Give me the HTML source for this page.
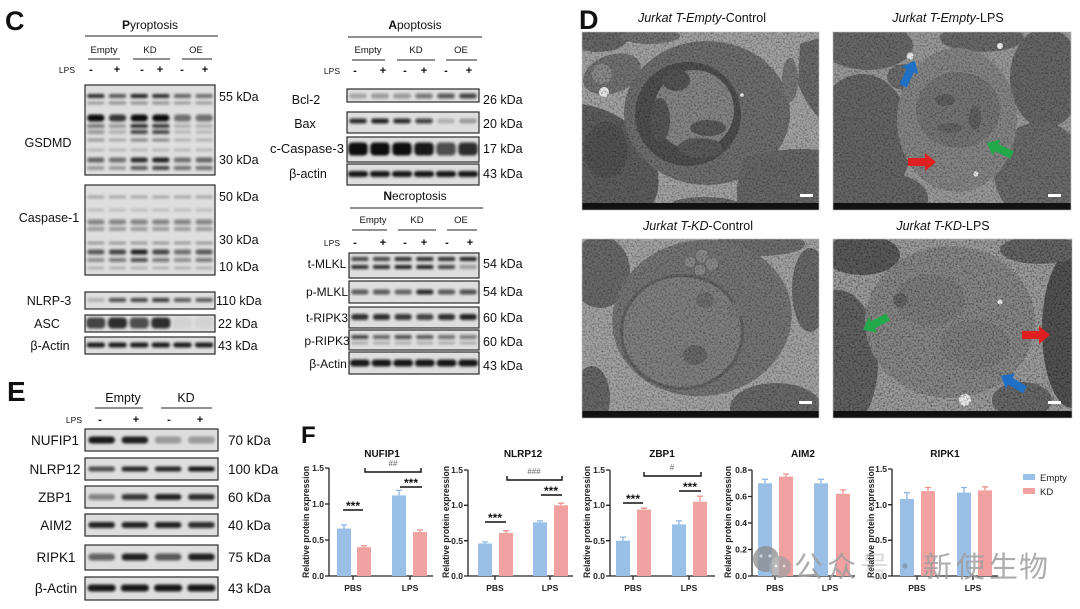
<!DOCTYPE html>
<html><head><meta charset="utf-8"><style>
html,body{margin:0;padding:0;background:#fff;}
svg{display:block;font-family:"Liberation Sans",Arial,"Noto Sans CJK SC",sans-serif;}
</style></head><body>
<svg id="s" width="1080" height="609" viewBox="0 0 1080 609" xmlns="http://www.w3.org/2000/svg">
<defs>
<filter id="blur" x="-10%" y="-50%" width="120%" height="200%"><feGaussianBlur stdDeviation="1.3"/></filter>
<filter id="grain" x="0" y="0" width="100%" height="100%"><feTurbulence type="fractalNoise" baseFrequency="0.55" numOctaves="2" seed="7"/><feColorMatrix type="matrix" values="0 0 0 0 0  0 0 0 0 0  0 0 0 0 0  2.2 0 0 0 -0.95"/></filter>
<clipPath id="c1"><rect x="582" y="32" width="237" height="178"/></clipPath>
<clipPath id="c2"><rect x="833" y="32" width="238" height="178"/></clipPath>
<clipPath id="c3"><rect x="582" y="239" width="237" height="179"/></clipPath>
<clipPath id="c4"><rect x="833" y="239" width="239" height="179"/></clipPath>
</defs>
<rect width="1080" height="609" fill="#fff"/>

<!-- ===== Panel C ===== -->
<text x="5" y="30" font-size="27" font-weight="bold" fill="#111">C</text>
<g fill="#111">
<text x="150" y="29" font-size="12" text-anchor="middle"><tspan font-weight="bold">P</tspan>yroptosis</text>
<line x1="85" y1="36" x2="218" y2="36" stroke="#222" stroke-width="1"/>
<g font-size="9.5" text-anchor="middle">
<text x="104" y="53">Empty</text><text x="150" y="53">KD</text><text x="196" y="53">OE</text>
</g>
<g stroke="#222" stroke-width="1">
<line x1="88" y1="59" x2="120" y2="59"/><line x1="133" y1="59" x2="170" y2="59"/><line x1="182" y1="59" x2="212" y2="59"/>
</g>
<text x="75" y="73" font-size="8.5" text-anchor="end">LPS</text>
<g font-size="11" font-weight="bold" text-anchor="middle">
<text x="91" y="73">-</text><text x="117" y="73">+</text><text x="142" y="73">-</text><text x="160" y="73">+</text><text x="182" y="73">-</text><text x="205" y="73">+</text>
</g>
<g font-size="12.5" text-anchor="middle">
<text x="48" y="147" textLength="47" lengthAdjust="spacingAndGlyphs">GSDMD</text>
<text x="49" y="222">Caspase-1</text>
<text x="49" y="305">NLRP-3</text>
<text x="47" y="328">ASC</text>
<text x="50" y="350">β-Actin</text>
</g>
<g font-size="12.5">
<text x="219" y="101">55 kDa</text>
<text x="219" y="164">30 kDa</text>
<text x="219" y="201">50 kDa</text>
<text x="219" y="244">30 kDa</text>
<text x="219" y="271">10 kDa</text>
<text x="216" y="305">110 kDa</text>
<text x="218" y="328">22 kDa</text>
<text x="218" y="350">43 kDa</text>
</g>

<!-- apoptosis -->
<text x="415" y="29" font-size="12" text-anchor="middle"><tspan font-weight="bold">A</tspan>poptosis</text>
<line x1="348" y1="37" x2="482" y2="37" stroke="#222" stroke-width="1"/>
<g font-size="9.5" text-anchor="middle">
<text x="368" y="53">Empty</text><text x="416" y="53">KD</text><text x="461" y="53">OE</text>
</g>
<g stroke="#222" stroke-width="1">
<line x1="352" y1="60" x2="385" y2="60"/><line x1="397" y1="60" x2="435" y2="60"/><line x1="446" y1="60" x2="477" y2="60"/>
</g>
<text x="340" y="74" font-size="8.5" text-anchor="end">LPS</text>
<g font-size="11" font-weight="bold" text-anchor="middle">
<text x="355" y="74">-</text><text x="383" y="74">+</text><text x="405" y="74">-</text><text x="424" y="74">+</text><text x="446" y="74">-</text><text x="469" y="74">+</text>
</g>
<g font-size="12.5" text-anchor="middle">
<text x="306" y="104">Bcl-2</text>
<text x="305" y="128">Bax</text>
<text x="307" y="153" textLength="74" lengthAdjust="spacingAndGlyphs">c-Caspase-3</text>
<text x="308" y="178">β-actin</text>
</g>
<g font-size="12.5">
<text x="483" y="104">26 kDa</text>
<text x="483" y="128">20 kDa</text>
<text x="483" y="153">17 kDa</text>
<text x="483" y="178">43 kDa</text>
</g>

<!-- necroptosis -->
<text x="415" y="200" font-size="12" text-anchor="middle"><tspan font-weight="bold">N</tspan>ecroptosis</text>
<line x1="350" y1="208" x2="483" y2="208" stroke="#222" stroke-width="1"/>
<g font-size="9.5" text-anchor="middle">
<text x="373" y="223">Empty</text><text x="417" y="223">KD</text><text x="461" y="223">OE</text>
</g>
<g stroke="#222" stroke-width="1">
<line x1="352" y1="230" x2="387" y2="230"/><line x1="398" y1="230" x2="436" y2="230"/><line x1="447" y1="230" x2="477" y2="230"/>
</g>
<text x="340" y="246" font-size="8.5" text-anchor="end">LPS</text>
<g font-size="11" font-weight="bold" text-anchor="middle">
<text x="355" y="246">-</text><text x="383" y="246">+</text><text x="405" y="246">-</text><text x="424" y="246">+</text><text x="447" y="246">-</text><text x="470" y="246">+</text>
</g>
<g font-size="12" text-anchor="middle">
<text x="327" y="268">t-MLKL</text>
<text x="327" y="296">p-MLKL</text>
<text x="327" y="322">t-RIPK3</text>
<text x="327" y="345">p-RIPK3</text>
<text x="328" y="368">β-Actin</text>
</g>
<g font-size="12.5">
<text x="483" y="268">54 kDa</text>
<text x="483" y="296">54 kDa</text>
<text x="483" y="322">60 kDa</text>
<text x="483" y="346">60 kDa</text>
<text x="483" y="370">43 kDa</text>
</g>
</g>

<!-- blot boxes backgrounds -->
<g fill="#dedede">
<rect x="85" y="85" width="130" height="90"/>
<rect x="85" y="185" width="130" height="90"/>
<rect x="85" y="292" width="130" height="17"/>
<rect x="85" y="315" width="130" height="17"/>
<rect x="85" y="337" width="130" height="17"/>
<rect x="347" y="89" width="132" height="13"/>
<rect x="347" y="112" width="132" height="21"/>
<rect x="347" y="137" width="132" height="25"/>
<rect x="347" y="164" width="132" height="21"/>
<rect x="349" y="253" width="130" height="25"/>
<rect x="349" y="281" width="130" height="22"/>
<rect x="349" y="307" width="130" height="21"/>
<rect x="349" y="330" width="130" height="20"/>
<rect x="349" y="352" width="130" height="22"/>
<rect x="85" y="429" width="133" height="22"/>
<rect x="85" y="458" width="133" height="22"/>
<rect x="85" y="486" width="133" height="22"/>
<rect x="85" y="514" width="133" height="22"/>
<rect x="85" y="545" width="133" height="25"/>
<rect x="85" y="577" width="133" height="23"/>
</g>
<g id="bands" filter="url(#blur)"></g>
<g fill="none" stroke="#2a2a2a" stroke-width="1.2">
<rect x="85" y="85" width="130" height="90"/>
<rect x="85" y="185" width="130" height="90"/>
<rect x="85" y="292" width="130" height="17"/>
<rect x="85" y="315" width="130" height="17"/>
<rect x="85" y="337" width="130" height="17"/>
<rect x="347" y="89" width="132" height="13"/>
<rect x="347" y="112" width="132" height="21"/>
<rect x="347" y="137" width="132" height="25"/>
<rect x="347" y="164" width="132" height="21"/>
<rect x="349" y="253" width="130" height="25"/>
<rect x="349" y="281" width="130" height="22"/>
<rect x="349" y="307" width="130" height="21"/>
<rect x="349" y="330" width="130" height="20"/>
<rect x="349" y="352" width="130" height="22"/>
<rect x="85" y="429" width="133" height="22"/>
<rect x="85" y="458" width="133" height="22"/>
<rect x="85" y="486" width="133" height="22"/>
<rect x="85" y="514" width="133" height="22"/>
<rect x="85" y="545" width="133" height="25"/>
<rect x="85" y="577" width="133" height="23"/>
</g>

<!-- ===== Panel E ===== -->
<g fill="#111">
<text x="7" y="401" font-size="28" font-weight="bold">E</text>
<g font-size="12.5" text-anchor="middle"><text x="123" y="402">Empty</text><text x="186" y="402">KD</text></g>
<g stroke="#222" stroke-width="1"><line x1="95" y1="408" x2="143" y2="408"/><line x1="161" y1="408" x2="212" y2="408"/></g>
<text x="82" y="423" font-size="8.5" text-anchor="end">LPS</text>
<g font-size="11" font-weight="bold" text-anchor="middle">
<text x="100" y="423">-</text><text x="136" y="423">+</text><text x="169" y="423">-</text><text x="200" y="423">+</text>
</g>
<g font-size="13.5" text-anchor="middle">
<text x="55" y="445">NUFIP1</text>
<text x="55" y="474">NLRP12</text>
<text x="55" y="502">ZBP1</text>
<text x="56" y="530">AIM2</text>
<text x="56" y="562">RIPK1</text>
<text x="56" y="593">β-Actin</text>
</g>
<g font-size="13.5">
<text x="228" y="445">70 kDa</text>
<text x="228" y="474">100 kDa</text>
<text x="228" y="502">60 kDa</text>
<text x="228" y="530">40 kDa</text>
<text x="228" y="562">75 kDa</text>
<text x="228" y="593">43 kDa</text>
</g>
</g>

<!-- ===== Panel D ===== -->
<text x="579" y="29" font-size="27" font-weight="bold" fill="#111">D</text>
<g font-size="12.5" text-anchor="middle" fill="#111">
<text x="702" y="22"><tspan font-style="italic">Jurkat T-Empty</tspan>-Control</text>
<text x="948" y="22"><tspan font-style="italic">Jurkat T-Empty</tspan>-LPS</text>
<text x="698" y="230"><tspan font-style="italic">Jurkat T-KD</tspan>-Control</text>
<text x="943" y="230"><tspan font-style="italic">Jurkat T-KD</tspan>-LPS</text>
</g>

<!-- EM 1 -->
<g clip-path="url(#c1)">
<rect x="582" y="32" width="237" height="178" fill="#a2a2a2"/>
<ellipse cx="598" cy="38" rx="30" ry="14" fill="#676767"/>
<ellipse cx="650" cy="36" rx="30" ry="8" fill="#727272"/>
<ellipse cx="612" cy="74" rx="30" ry="19" transform="rotate(-20 612 74)" fill="#727272"/>
<circle cx="602" cy="74" r="10" fill="#8a8a8a"/>
<path d="M582,104 Q628,112 650,148 Q668,188 648,210 L582,210 Z" fill="#5d5d5d"/>
<ellipse cx="606" cy="150" rx="22" ry="28" fill="#525252"/>
<ellipse cx="707" cy="113" rx="83" ry="72" fill="#6e6e6e"/>
<ellipse cx="688" cy="114" rx="53" ry="52" fill="#4f4f4f"/>
<ellipse cx="694" cy="110" rx="40" ry="40" fill="#858585"/>
<ellipse cx="676" cy="80" rx="14" ry="11" fill="#555"/>
<ellipse cx="660" cy="120" rx="10" ry="22" fill="#575757"/>
<ellipse cx="708" cy="128" rx="18" ry="8" fill="#5a5a5a"/>
<ellipse cx="700" cy="148" rx="22" ry="10" fill="#5b5b5b"/>
<path d="M800,44 L819,38 L819,118 Q806,104 798,84 Z" fill="#696969"/>
<path d="M745,158 Q782,146 819,150 L819,210 L738,210 Q734,180 745,158 Z" fill="#676767"/>
<ellipse cx="790" cy="80" rx="8" ry="22" fill="#777"/>
<ellipse cx="705" cy="205" rx="35" ry="8" fill="#686868"/>
<circle cx="604" cy="92" r="5" fill="#ececec"/>
<circle cx="742" cy="95" r="1.8" fill="#fff"/>
<rect x="582" y="32" width="237" height="178" filter="url(#grain)" opacity="0.45"/>
<rect x="582" y="203" width="237" height="7" fill="#111"/>
<rect x="800" y="194" width="13" height="3" fill="#fff"/>
</g>
<rect x="582" y="32" width="237" height="178" fill="none" stroke="#bbb" stroke-width="0.6"/>

<!-- EM 2 -->
<g clip-path="url(#c2)">
<rect x="833" y="32" width="238" height="178" fill="#999"/>
<ellipse cx="868" cy="46" rx="45" ry="24" fill="#686868"/>
<ellipse cx="862" cy="140" rx="50" ry="66" fill="#656565"/>
<ellipse cx="905" cy="77" rx="18" ry="13" fill="#6c6c6c"/>
<ellipse cx="982" cy="38" rx="42" ry="14" fill="#696969"/>
<ellipse cx="1046" cy="78" rx="36" ry="50" fill="#666"/>
<ellipse cx="1040" cy="172" rx="46" ry="50" fill="#6b6b6b"/>
<ellipse cx="880" cy="198" rx="48" ry="26" fill="#656565"/>
<ellipse cx="957" cy="120" rx="60" ry="72" fill="#858585"/>
<ellipse cx="958" cy="110" rx="42" ry="38" fill="#757575"/>
<ellipse cx="945" cy="100" rx="10" ry="6" fill="#606060"/>
<ellipse cx="975" cy="118" rx="6" ry="12" fill="#606060"/>
<ellipse cx="950" cy="128" rx="12" ry="5" fill="#636363"/>
<circle cx="910" cy="56" r="3.5" fill="#f0f0f0"/>
<circle cx="1000" cy="46" r="3" fill="#f0f0f0"/>
<circle cx="976" cy="174" r="2.5" fill="#f0f0f0"/>
<rect x="833" y="32" width="238" height="178" filter="url(#grain)" opacity="0.45"/>
<polygon points="0,-4 17,-4 17,-9 28,0 17,9 17,4 0,4" fill="#1f6fc4" transform="translate(903,86) rotate(-65)"/>
<polygon points="0,-4 17,-4 17,-9 28,0 17,9 17,4 0,4" fill="#e02020" transform="translate(908,162)"/>
<polygon points="0,-4 17,-4 17,-9 28,0 17,9 17,4 0,4" fill="#22a94a" transform="translate(1012,155) rotate(205.6)"/>
<rect x="833" y="203" width="238" height="7" fill="#111"/>
<rect x="1048" y="194" width="13" height="3" fill="#fff"/>
</g>
<rect x="833" y="32" width="238" height="178" fill="none" stroke="#bbb" stroke-width="0.6"/>

<!-- EM 3 -->
<g clip-path="url(#c3)">
<rect x="582" y="239" width="237" height="179" fill="#a2a2a2"/>
<ellipse cx="600" cy="272" rx="30" ry="36" fill="#696969"/>
<ellipse cx="592" cy="398" rx="18" ry="32" fill="#676767"/>
<ellipse cx="760" cy="244" rx="45" ry="12" fill="#6e6e6e"/>
<ellipse cx="810" cy="290" rx="18" ry="42" fill="#696969"/>
<ellipse cx="776" cy="408" rx="46" ry="25" fill="#696969"/>
<ellipse cx="702" cy="318" rx="90" ry="78" transform="rotate(-8 702 318)" fill="#757575"/>
<ellipse cx="682" cy="332" rx="62" ry="58" fill="#626262"/>
<ellipse cx="682" cy="332" rx="59" ry="55" fill="#808080"/>
<ellipse cx="695" cy="355" rx="12" ry="10" fill="#696969"/>
<ellipse cx="705" cy="300" rx="9" ry="8" fill="#6f6f6f"/>
<circle cx="690" cy="262" r="6" fill="#8a8a8a" stroke="#626262" stroke-width="0.8"/>
<circle cx="702" cy="256" r="7" fill="#8a8a8a" stroke="#626262" stroke-width="0.8"/>
<circle cx="712" cy="264" r="7" fill="#8a8a8a" stroke="#626262" stroke-width="0.8"/>
<circle cx="700" cy="270" r="6" fill="#8a8a8a" stroke="#626262" stroke-width="0.8"/>
<circle cx="735" cy="310" r="8" fill="#797979"/>
<rect x="582" y="239" width="237" height="179" filter="url(#grain)" opacity="0.45"/>
<rect x="582" y="411" width="237" height="7" fill="#111"/>
<rect x="799" y="401" width="13" height="3" fill="#fff"/>
</g>
<rect x="582" y="239" width="237" height="179" fill="none" stroke="#bbb" stroke-width="0.6"/>

<!-- EM 4 -->
<g clip-path="url(#c4)">
<rect x="833" y="239" width="239" height="179" fill="#9c9c9c"/>
<ellipse cx="862" cy="255" rx="38" ry="20" fill="#5a5a5a"/>
<ellipse cx="838" cy="362" rx="40" ry="72" fill="#626262"/>
<ellipse cx="1072" cy="330" rx="30" ry="78" fill="#535353"/>
<ellipse cx="1040" cy="250" rx="40" ry="14" fill="#656565"/>
<ellipse cx="1022" cy="400" rx="30" ry="18" fill="#696969"/>
<ellipse cx="950" cy="322" rx="85" ry="76" fill="#878787"/>
<ellipse cx="930" cy="300" rx="35" ry="25" fill="#7d7d7d"/>
<ellipse cx="975" cy="345" rx="35" ry="25" fill="#7f7f7f"/>
<circle cx="900" cy="300" r="7" fill="#656565"/>
<circle cx="965" cy="400" r="6" fill="#eee"/>
<circle cx="1000" cy="302" r="2.5" fill="#f0f0f0"/>
<rect x="833" y="239" width="239" height="179" filter="url(#grain)" opacity="0.55"/>
<polygon points="0,-4 17,-4 17,-9 28,0 17,9 17,4 0,4" fill="#e02020" transform="translate(1022,335)"/>
<polygon points="0,-4 17,-4 17,-9 28,0 17,9 17,4 0,4" fill="#22a94a" transform="translate(888,317) rotate(152.5)"/>
<polygon points="0,-4 17,-4 17,-9 28,0 17,9 17,4 0,4" fill="#1f6fc4" transform="translate(1025,390) rotate(211)"/>
<rect x="833" y="411" width="239" height="7" fill="#111"/>
<rect x="1048" y="401" width="13" height="3" fill="#fff"/>
</g>
<rect x="833" y="239" width="239" height="179" fill="none" stroke="#bbb" stroke-width="0.6"/>

<!-- ===== Panel F ===== -->
<text x="301" y="443" font-size="24" font-weight="bold" fill="#111">F</text>
<g font-size="10" font-weight="bold" fill="#111" text-anchor="middle">
<text x="382" y="457">NUFIP1</text>
<text x="523" y="457">NLRP12</text>
<text x="662" y="457">ZBP1</text>
<text x="803" y="457">AIM2</text>
<text x="945" y="457">RIPK1</text>
</g>
<g font-size="9" font-weight="bold" fill="#222" text-anchor="middle">
<text transform="translate(309,522) rotate(-90)" textLength="112" lengthAdjust="spacingAndGlyphs">Relative protein expression</text>
<text transform="translate(449,522) rotate(-90)" textLength="112" lengthAdjust="spacingAndGlyphs">Relative protein expression</text>
<text transform="translate(590,522) rotate(-90)" textLength="112" lengthAdjust="spacingAndGlyphs">Relative protein expression</text>
<text transform="translate(731,522) rotate(-90)" textLength="112" lengthAdjust="spacingAndGlyphs">Relative protein expression</text>
<text transform="translate(874,522) rotate(-90)" textLength="112" lengthAdjust="spacingAndGlyphs">Relative protein expression</text>
</g>

<!-- axes -->
<g stroke="#222" stroke-width="1.3" fill="none">
<path d="M329,468 V576 H433 M325,468 H329 M325,504 H329 M325,540 H329 M325,576 H329 M353,576 V580 M410,576 V580"/>
<path d="M468,470 V576 H573 M464,470 H468 M464,505.3 H468 M464,540.7 H468 M464,576 H468 M495,576 V580 M550,576 V580"/>
<path d="M610,470 V576 H715 M606,470 H610 M606,505.3 H610 M606,540.7 H610 M606,576 H610 M633,576 V580 M689,576 V580"/>
<path d="M752,470 V576 H855 M748,470 H752 M748,496.5 H752 M748,523 H752 M748,549.5 H752 M748,576 H752 M775,576 V580 M830,576 V580"/>
<path d="M892,469 V576 H998 M888,469 H892 M888,504.7 H892 M888,540.3 H892 M888,576 H892 M917,576 V580 M973,576 V580"/>
</g>
<g font-size="8.5" font-weight="bold" fill="#222" text-anchor="end">
<text x="324" y="471">1.5</text><text x="324" y="507">1.0</text><text x="324" y="543">0.5</text><text x="324" y="579">0.0</text>
<text x="463" y="473">1.5</text><text x="463" y="508">1.0</text><text x="463" y="544">0.5</text><text x="463" y="579">0.0</text>
<text x="605" y="473">1.5</text><text x="605" y="508">1.0</text><text x="605" y="544">0.5</text><text x="605" y="579">0.0</text>
<text x="747" y="473">0.8</text><text x="747" y="499.5">0.6</text><text x="747" y="526">0.4</text><text x="747" y="552.5">0.2</text><text x="747" y="579">0.0</text>
<text x="887" y="472">1.5</text><text x="887" y="508">1.0</text><text x="887" y="543">0.5</text><text x="887" y="579">0.0</text>
</g>
<g font-size="8.5" font-weight="bold" fill="#222" text-anchor="middle">
<text x="353" y="591">PBS</text><text x="410" y="591">LPS</text>
<text x="495" y="591">PBS</text><text x="550" y="591">LPS</text>
<text x="633" y="591">PBS</text><text x="689" y="591">LPS</text>
<text x="775" y="591">PBS</text><text x="830" y="591">LPS</text>
<text x="917" y="591">PBS</text><text x="973" y="591">LPS</text>
</g>

<!-- bars -->
<g>
<g fill="#9bc0e8">
<rect x="337" y="528.5" width="14" height="47.5"/><rect x="392" y="495.4" width="14" height="80.6"/>
<rect x="478" y="543.5" width="14" height="32.5"/><rect x="533" y="522.3" width="14" height="53.7"/>
<rect x="616" y="540.7" width="14" height="35.3"/><rect x="672" y="524.4" width="14" height="51.6"/>
<rect x="758" y="483.3" width="14" height="92.7"/><rect x="814" y="483.3" width="14" height="92.7"/>
<rect x="900" y="499" width="14" height="77"/><rect x="957" y="492.5" width="14" height="83.5"/>
</g>
<g fill="#f2a1a1">
<rect x="357" y="547.2" width="14" height="28.8"/><rect x="413" y="532.1" width="14" height="43.9"/>
<rect x="499" y="532.9" width="14" height="43.1"/><rect x="554" y="505.3" width="14" height="70.7"/>
<rect x="637" y="509.6" width="14" height="66.4"/><rect x="693" y="501.8" width="14" height="74.2"/>
<rect x="779" y="476.6" width="14" height="99.4"/><rect x="836" y="493.8" width="14" height="82.2"/>
<rect x="921" y="491.1" width="14" height="84.9"/><rect x="978" y="490.4" width="14" height="85.6"/>
</g>
<g stroke="#8fb6e2" stroke-width="1.3" fill="none">
<path d="M344,528.5 V524.9 M341,524.9 H347"/><path d="M399,495.4 V490.4 M396,490.4 H402"/>
<path d="M485,543.5 V542 M482,542 H488"/><path d="M540,522.3 V520.9 M537,520.9 H543"/>
<path d="M623,540.7 V537.1 M620,537.1 H626"/><path d="M679,524.4 V520.9 M676,520.9 H682"/>
<path d="M765,483.3 V479.3 M762,479.3 H768"/><path d="M821,483.3 V479.3 M818,479.3 H824"/>
<path d="M907,499 V492.6 M904,492.6 H910"/><path d="M964,492.5 V487.5 M961,487.5 H967"/>
</g>
<g stroke="#ee9393" stroke-width="1.3" fill="none">
<path d="M364,547.2 V545.8 M361,545.8 H367"/><path d="M420,532.1 V530 M417,530 H423"/>
<path d="M506,532.9 V530.8 M503,530.8 H509"/><path d="M561,505.3 V503.2 M558,503.2 H564"/>
<path d="M644,509.6 V508.2 M641,508.2 H647"/><path d="M700,501.8 V496.2 M697,496.2 H703"/>
<path d="M786,476.6 V474 M783,474 H789"/><path d="M843,493.8 V489.9 M840,489.9 H846"/>
<path d="M928,491.1 V487.5 M925,487.5 H931"/><path d="M985,490.4 V486.8 M982,486.8 H988"/>
</g>
</g>

<!-- significance -->
<g stroke="#111" stroke-width="1.4" fill="none">
<path d="M343,510 H363 M400,487 H422 M365,468 V472 H421 V468"/>
<path d="M485,522 H506 M541,495 H562 M507,476 V480 H562 V476"/>
<path d="M623,503 H643 M679,491 H701 M644,472 V476 H701 V472"/>
</g>
<g font-size="12" font-weight="bold" fill="#111" text-anchor="middle">
<text x="353" y="510">***</text><text x="411" y="487">***</text>
<text x="495" y="522">***</text><text x="551" y="495">***</text>
<text x="633" y="503">***</text><text x="690" y="491">***</text>
</g>
<g font-size="8" fill="#666" text-anchor="middle">
<text x="393" y="466">##</text><text x="534" y="474">###</text><text x="672" y="470">#</text>
</g>

<!-- legend -->
<rect x="1023" y="474" width="12" height="6" fill="#9bc0e8"/>
<rect x="1023" y="488" width="12" height="6" fill="#f2a1a1"/>
<g font-size="9.5" fill="#222"><text x="1040" y="481">Empty</text><text x="1040" y="495">KD</text></g>

<!-- watermark -->
<g opacity="0.75">
<circle cx="766" cy="559" r="13" fill="#8c8c8c"/>
<circle cx="780" cy="567" r="11" fill="#a0a0a0"/>
<circle cx="761" cy="556" r="1.6" fill="#ddd"/><circle cx="770" cy="556" r="1.6" fill="#ddd"/>
<circle cx="776" cy="566" r="1.4" fill="#eee"/><circle cx="784" cy="566" r="1.4" fill="#eee"/>
</g>
<g font-family="'Noto Sans CJK SC','WenQuanYi Zen Hei',sans-serif" font-size="29" fill="#9e9e9e" fill-opacity="0.85">
<text x="794" y="577">公</text><text x="827" y="577">众</text>
<text x="860" y="577" fill-opacity="0.35">号</text>
<text x="923" y="577">新</text><text x="956" y="577">使</text><text x="989" y="577">生</text><text x="1019" y="577">物</text>
</g>
<circle cx="905" cy="566" r="2.5" fill="#8090a8" opacity="0.8"/>
</svg>
<script>
(function(){
var NS="http://www.w3.org/2000/svg";
var g=document.getElementById('bands');
function row(x0,x1,n,y,h,v,wf){
  wf=wf||0.8;var lw=(x1-x0)/n;
  for(var i=0;i<v.length;i++){
    var o=v[i];if(!o)continue;
    var r=document.createElementNS(NS,'rect');var w=lw*wf;
    r.setAttribute('x',x0+lw*i+(lw-w)/2);r.setAttribute('y',y-h/2);
    r.setAttribute('width',w);r.setAttribute('height',h);
    r.setAttribute('rx',Math.min(h/2,4));r.setAttribute('fill','#111');
    r.setAttribute('opacity',o);g.appendChild(r);
  }
}
function all(v,n){var a=[];for(var i=0;i<n;i++)a.push(v);return a;}
/* GSDMD */
row(85,215,6,96,4,[0.85,0.65,0.9,0.85,0.6,0.55]);
row(85,215,6,103,3,[0.3,0.4,0.4,0.4,0.3,0.3]);
row(85,215,6,118,7,[1,0.8,1,1,0.55,0.55]);
row(85,215,6,126,4,[0.5,0.3,0.85,0.8,0.2,0.2]);
row(85,215,6,132,4,[0.35,0.2,0.75,0.75,0.15,0.15]);
row(85,215,6,140,3,[0.35,0.25,0.45,0.45,0.2,0.2]);
row(85,215,6,150,3,all(0.18,6));
row(85,215,6,160,5,[0.6,0.55,0.85,0.9,0.55,0.6]);
row(85,215,6,168,4,[0.3,0.3,0.65,0.75,0.55,0.55]);
/* Caspase-1 */
row(85,215,6,197,3,all(0.25,6));
row(85,215,6,210,3,all(0.15,6));
row(85,215,6,222,5,all(0.45,6));
row(85,215,6,229,4,all(0.3,6));
row(85,215,6,243,3,all(0.3,6));
row(85,215,6,252,5,[0.65,0.75,0.9,0.75,0.55,0.65]);
row(85,215,6,260,4,[0.4,0.5,0.7,0.5,0.4,0.5]);
row(85,215,6,268,3,all(0.2,6));
/* NLRP3, ASC, actin */
row(85,215,6,300,4,[0.2,0.7,0.75,0.8,0.65,0.65]);
row(85,215,6,323,11,[0.75,0.85,0.7,0.85,0.05,0.05],0.88);
row(85,215,6,345,5,all(0.92,6),0.85);
/* apoptosis */
row(347,479,6,96,5,[0.25,0.35,0.35,0.5,0.65,0.75]);
row(347,479,6,121,5,[0.85,0.9,0.85,0.75,0.2,0.3]);
row(347,479,6,149,13,[1,1,1,0.95,0.7,0.85],0.88);
row(347,479,6,174,6,all(0.95,6),0.92);
/* necroptosis */
row(349,479,6,259,4,[0.75,0.75,0.85,0.85,0.85,0.9]);
row(349,479,6,267,4,[0.85,0.85,0.9,0.9,0.75,0.35]);
row(349,479,6,292,5,[0.65,0.65,0.6,0.85,0.65,0.7]);
row(349,479,6,317,6,[0.85,0.85,0.8,0.75,0.85,0.9]);
row(349,479,6,337,4,[0.75,0.6,0.7,0.65,0.55,0.5]);
row(349,479,6,343,3,all(0.22,6));
row(349,479,6,363,7,all(0.95,6),0.92);
/* panel E */
row(85,218,4,440,7,[0.95,0.92,0.35,0.35]);
row(85,218,4,469,5,[0.7,0.88,0.88,0.95]);
row(85,218,4,497,6,[0.45,0.8,0.9,0.85]);
row(85,218,4,525,6,[0.9,0.9,0.9,0.85]);
row(85,218,4,557,7,[0.6,0.9,0.65,0.9]);
row(85,218,4,588,7,all(0.95,4),0.85);
})();
</script>
</body></html>
